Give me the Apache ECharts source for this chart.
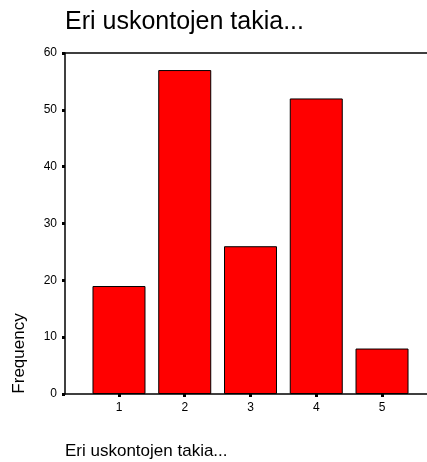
<!DOCTYPE html>
<html>
<head>
<meta charset="utf-8">
<script src="https://cdn.jsdelivr.net/npm/echarts@6/dist/echarts.min.js"></script>
<style>
html,body{margin:0;padding:0;background:#fff;}
#chart{width:427px;height:462px;}
</style>
</head>
<body>
<div id="chart"></div>
<script>
const titleText = 'Eri uskontojen takia...';
const xAxisTitle = 'Eri uskontojen takia...';
const yAxisTitle = 'Frequency';
const categories = ['1', '2', '3', '4', '5'];
const frequencies = [19, 57, 26, 52, 8];
const yTicks = [0, 10, 20, 30, 40, 50, 60];

const FONT = '"Liberation Sans", Arial, sans-serif';
const chart = echarts.init(document.getElementById('chart'), null, {renderer: 'canvas'});
const catPositions = categories.map((c, i) => i + 1);

chart.setOption({
  animation: false,
  backgroundColor: '#fff',
  grid: {left: 65, right: 0, top: 53, bottom: 68, containLabel: false},
  graphic: [
    {type: 'text', x: 65, y: 22.5, style: {text: titleText, font: '25px ' + FONT, fill: '#000', align: 'left', verticalAlign: 'middle'}},
    {type: 'text', x: 65, y: 451, style: {text: xAxisTitle, font: '17px ' + FONT, fill: '#000', align: 'left', verticalAlign: 'middle'}},
    {type: 'text', x: 19, y: 353.5, rotation: Math.PI / 2, style: {text: yAxisTitle, font: '17px ' + FONT, fill: '#000', align: 'center', verticalAlign: 'middle'}}
  ],
  xAxis: [
    {
      type: 'value', min: 0.179, max: 5.684,
      axisLine: {show: true, lineStyle: {color: '#000', width: 1.5}},
      axisTick: {show: true, customValues: catPositions, length: 3, inside: false, lineStyle: {color: '#000', width: 3}},
      axisLabel: {customValues: catPositions, formatter: v => categories[Math.round(v) - 1], color: '#000', fontSize: 12, fontFamily: FONT, margin: 8},
      splitLine: {show: false}
    },
    {
      type: 'value', position: 'top', min: 0.179, max: 5.684,
      axisLine: {show: true, lineStyle: {color: '#000', width: 1.5}},
      axisTick: {show: false}, axisLabel: {show: false}, splitLine: {show: false}
    }
  ],
  yAxis: {
    type: 'value', min: yTicks[0], max: yTicks[yTicks.length - 1], interval: 10,
    axisLine: {show: true, lineStyle: {color: '#000', width: 1.5}},
    axisTick: {show: true, length: 3, lineStyle: {color: '#000', width: 3}},
    axisLabel: {color: '#000', fontSize: 12, fontFamily: FONT, margin: 8},
    splitLine: {show: false}
  },
  series: [{
    type: 'bar',
    xAxisIndex: 0,
    barWidth: 53,
    data: frequencies.map((v, i) => [catPositions[i], v]),
    itemStyle: {color: '#ff0000', borderColor: '#000', borderWidth: 1}
  }]
});
</script>
</body>
</html>
